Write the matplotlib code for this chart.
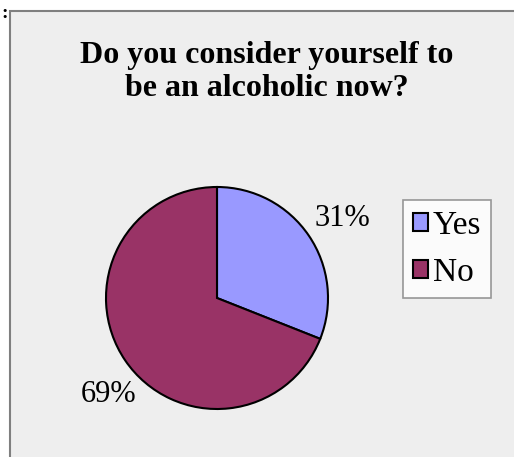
import matplotlib
matplotlib.use("Agg")
import matplotlib.pyplot as plt
from matplotlib.patches import Rectangle
import numpy as np

categories = ["Yes", "No"]
values = [31, 69]
colors = ["#9999FF", "#993366"]
title = "Do you consider yourself to\nbe an alcoholic now?"

plt.rcParams['font.family'] = ['Liberation Serif', 'DejaVu Serif']

W, H = 514, 457
fig = plt.figure(figsize=(W/100, H/100), dpi=100)
fig.patch.set_facecolor("white")

# chart frame
fig.patches.append(Rectangle((10/W, -0.01), 1.0, (H-11)/H + 0.01, transform=fig.transFigure,
                             facecolor="#EEEEEE", edgecolor="#7F7F7F", linewidth=1.5, zorder=-5))
fig.text(1/W, 1 - 14/H, ":", fontsize=14, fontweight="bold", ha="left", va="center")

fig.text(267/W, 1 - 72/H, title, fontsize=23, fontweight="bold", ha="center", va="center",
         linespacing=1.17)

cx, cy, r = 217, 298, 111
ax = fig.add_axes([(cx - r)/W, (H - cy - r)/H, 2*r/W, 2*r/H])
ax.set_zorder(2)
wedges, texts, autotexts = ax.pie(values, colors=colors, startangle=90, counterclock=False,
                                  autopct='%1.0f%%', pctdistance=1.3,
                                  wedgeprops=dict(edgecolor="black", linewidth=1.5),
                                  textprops=dict(fontsize=22))
# Excel-style label placement: nudge along the circle
label_shift_deg = [-2.0, 7.5]
label_radius = [1.34, 1.31]
for w, t, dth, lr in zip(wedges, autotexts, label_shift_deg, label_radius):
    mid = np.deg2rad((w.theta1 + w.theta2) / 2 + dth)
    t.set_position((lr * np.cos(mid), lr * np.sin(mid)))
ax.set_aspect("equal")
ax.set_xlim(-1, 1)
ax.set_ylim(-1, 1)
ax.axis("off")
for w in wedges:
    w.set_clip_on(False)

leg = fig.legend(wedges, categories, loc="center", bbox_to_anchor=(447/W, 1 - 249/H),
                 frameon=True, fancybox=False, fontsize=24, handlelength=0.45, handleheight=0.45,
                 handletextpad=0.15, labelspacing=0.5, borderpad=0.3, borderaxespad=0)
leg.get_frame().set_edgecolor("#7F7F7F")
leg.get_frame().set_linewidth(1.2)
leg.get_frame().set_facecolor("white")
leg.set_zorder(3)

fig.savefig("out.png", dpi=100)
